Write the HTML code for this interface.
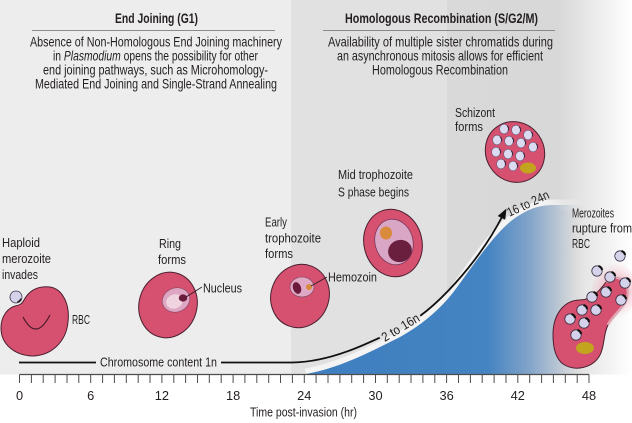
<!DOCTYPE html>
<html>
<head>
<meta charset="utf-8">
<style>
  html,body{margin:0;padding:0;background:#ffffff;}
  svg{display:block;}
  text{font-family:"Liberation Sans Narrow","Liberation Sans",sans-serif;fill:#231f20;}
</style>
</head>
<body>
<svg width="632" height="423" viewBox="0 0 632 423" xmlns="http://www.w3.org/2000/svg">
  <defs>
    <linearGradient id="bgR" gradientUnits="userSpaceOnUse" x1="447" y1="0" x2="632" y2="0">
      <stop offset="0" stop-color="#d9d9d9"/>
      <stop offset="0.6" stop-color="#d8d8d8"/>
      <stop offset="0.85" stop-color="#f0f0f0"/>
      <stop offset="1" stop-color="#ffffff"/>
    </linearGradient>
    <linearGradient id="blue" gradientUnits="userSpaceOnUse" x1="300" y1="0" x2="585" y2="0">
      <stop offset="0" stop-color="#3e7ebf"/>
      <stop offset="0.66" stop-color="#4584c2"/>
      <stop offset="0.8" stop-color="#80a3c9"/>
      <stop offset="0.9" stop-color="#b6c4d3"/>
      <stop offset="1" stop-color="#d8d8d8" stop-opacity="0"/>
    </linearGradient>
    <linearGradient id="band" gradientUnits="userSpaceOnUse" x1="300" y1="0" x2="585" y2="0">
      <stop offset="0" stop-color="#f4f4f4"/>
      <stop offset="0.85" stop-color="#f4f4f4"/>
      <stop offset="1" stop-color="#f4f4f4" stop-opacity="0"/>
    </linearGradient>
    <radialGradient id="glow" gradientUnits="userSpaceOnUse" cx="616" cy="290" r="28">
      <stop offset="0" stop-color="#e56a86" stop-opacity="0.8"/>
      <stop offset="1" stop-color="#f2b5c3" stop-opacity="0"/>
    </radialGradient>
    <mask id="lineMask" maskUnits="userSpaceOnUse" x="0" y="0" width="632" height="423">
      <rect x="0" y="0" width="632" height="423" fill="#fff"/>
      <rect x="96" y="354" width="125" height="16" fill="#000"/>
      <rect x="-23" y="-7" width="46" height="14" fill="#000" transform="translate(400.5,327.5) rotate(-31)"/>
    </mask>
    <g id="mz">
      <ellipse rx="4.4" ry="4.8" fill="#dcdaf0" stroke="#6a5a78" stroke-width="0.6"/>
      <path d="M3.2,-3.2 A4.5,4.5 0 0 1 4.3,1.5" fill="none" stroke="#3a2a40" stroke-width="1.1"/>
    </g>
    <g id="mzb">
      <circle r="5.2" fill="#d5d3ec" stroke="#3a3040" stroke-width="0.8"/>
      <path d="M1.5,-5 A5.2,5.2 0 0 1 5.1,-1" fill="none" stroke="#111" stroke-width="2.2"/>
    </g>
  </defs>

  <!-- background -->
  <rect x="0" y="0" width="291" height="374.5" fill="#ededed"/>
  <rect x="291" y="0" width="156" height="374.5" fill="#e1e1e1"/>
  <rect x="447" y="0" width="185" height="374.5" fill="url(#bgR)"/>

  <!-- header left -->
  <text x="156.5" y="23" text-anchor="middle" font-weight="bold" font-size="14" textLength="83" lengthAdjust="spacingAndGlyphs">End Joining (G1)</text>
  <line x1="32" y1="30.5" x2="275" y2="30.5" stroke="#8a8a8a" stroke-width="1"/>
  <text x="156" y="46.5" text-anchor="middle" font-size="13.6" textLength="252" lengthAdjust="spacingAndGlyphs">Absence of Non-Homologous End Joining machinery</text>
  <text x="155.5" y="60.5" text-anchor="middle" font-size="13.6" textLength="205" lengthAdjust="spacingAndGlyphs">in <tspan font-style="italic">Plasmodium</tspan> opens the possibility for other</text>
  <text x="155.5" y="74.5" text-anchor="middle" font-size="13.6" textLength="225" lengthAdjust="spacingAndGlyphs">end joining pathways, such as Microhomology-</text>
  <text x="156" y="88.5" text-anchor="middle" font-size="13.6" textLength="242" lengthAdjust="spacingAndGlyphs">Mediated End Joining and Single-Strand Annealing</text>

  <!-- header right -->
  <text x="441.5" y="23" text-anchor="middle" font-weight="bold" font-size="14" textLength="193" lengthAdjust="spacingAndGlyphs">Homologous Recombination (S/G2/M)</text>
  <line x1="323" y1="30.5" x2="555" y2="30.5" stroke="#8a8a8a" stroke-width="1"/>
  <text x="440.5" y="46.5" text-anchor="middle" font-size="13.6" textLength="225" lengthAdjust="spacingAndGlyphs">Availability of multiple sister chromatids during</text>
  <text x="440" y="60.5" text-anchor="middle" font-size="13.6" textLength="206" lengthAdjust="spacingAndGlyphs">an asynchronous mitosis allows for efficient</text>
  <text x="440" y="74.5" text-anchor="middle" font-size="13.6" textLength="136" lengthAdjust="spacingAndGlyphs">Homologous Recombination</text>

  <!-- white band + blue area -->
  <path d="M306,374 C340,368 370,352 400,337 C420,326 440,310 455,290 C475,263 495,232 515,218 C530,208 540,205 555,205 L580,205" fill="none" stroke="url(#band)" stroke-width="11"/>
  <path d="M306,374 C340,368 370,352 400,337 C420,326 440,310 455,290 C475,263 495,232 515,218 C530,208 540,205 555,205 L585,205 L585,374.5 L306,374.5 Z" fill="url(#blue)"/>

  <!-- chromosome content line -->
  <path d="M19,362.5 H292 C330,362 365,345 400,328 C435,312 480,260 503,215" fill="none" stroke="#111" stroke-width="1.8" mask="url(#lineMask)"/>
  <polygon points="506.5,208.5 505.2,219.8 497.7,216" fill="#111"/>
  <text x="100" y="366.5" font-size="12.8" textLength="117" lengthAdjust="spacingAndGlyphs">Chromosome content 1n</text>
  <text x="0" y="0" font-size="12.8" text-anchor="middle" textLength="42" lengthAdjust="spacingAndGlyphs" transform="translate(400.5,327.5) rotate(-31) translate(0,4.3)">2 to 16n</text>
  <text x="0" y="0" font-size="12.8" text-anchor="middle" textLength="45" lengthAdjust="spacingAndGlyphs" transform="translate(528,203.5) rotate(-25) translate(0,4.3)">16 to 24n</text>

  <!-- Cell 1: invading -->
  <path d="M24,300 C30,289 40,286 50,287 C63,289 70,305 68,322 C66,343 50,356 32,356 C14,355 1,344 1,328 C1,316 8,308 15,306 C20,305 22,304 24,300 Z" fill="#d6506f" stroke="#4a2030" stroke-width="1"/>
  <path d="M23,317 Q36,342 50,315" fill="none" stroke="#4a1a2a" stroke-width="1.2"/>
  <g transform="translate(16,297)">
    <circle r="6" fill="#d5d3ec" stroke="#3a3040" stroke-width="0.8"/>
    <path d="M5.6,2 A6,6 0 0 1 1,5.9 L1.5,4.2 A4.4,4.4 0 0 0 4.2,1.4 Z" fill="#1e1a22"/>
  </g>
  <text x="2" y="247" font-size="12.8" textLength="38" lengthAdjust="spacingAndGlyphs">Haploid</text>
  <text x="2" y="263" font-size="12.8" textLength="49" lengthAdjust="spacingAndGlyphs">merozoite</text>
  <text x="2" y="279" font-size="12.8" textLength="36" lengthAdjust="spacingAndGlyphs">invades</text>
  <text x="72" y="324" font-size="12.8" textLength="18" lengthAdjust="spacingAndGlyphs">RBC</text>

  <!-- Cell 2: ring -->
  <ellipse cx="168" cy="305" rx="29" ry="33" transform="rotate(15 168 305)" fill="#d6506f" stroke="#4a2030" stroke-width="1"/>
  <ellipse cx="176" cy="300" rx="14" ry="12" transform="rotate(-20 176 300)" fill="#dea6c2" stroke="#8a4a66" stroke-width="0.7"/>
  <ellipse cx="174.5" cy="301.5" rx="8.5" ry="7" transform="rotate(-20 174.5 301.5)" fill="#efd3df"/>
  <ellipse cx="183" cy="298" rx="4.2" ry="3.6" fill="#6a1a3a"/>
  <line x1="186" y1="297" x2="202" y2="287" stroke="#2a1a20" stroke-width="0.8"/>
  <text x="159" y="248" font-size="12.8" textLength="22" lengthAdjust="spacingAndGlyphs">Ring</text>
  <text x="158" y="264" font-size="12.8" textLength="28" lengthAdjust="spacingAndGlyphs">forms</text>
  <text x="203" y="292.5" font-size="12.8" textLength="39" lengthAdjust="spacingAndGlyphs">Nucleus</text>

  <!-- Cell 3: early trophozoite -->
  <ellipse cx="300" cy="296" rx="29" ry="32" transform="rotate(20 300 296)" fill="#d6506f" stroke="#4a2030" stroke-width="1"/>
  <ellipse cx="302" cy="287" rx="12" ry="10" fill="#dfa8c4" stroke="#8a4a66" stroke-width="0.7"/>
  <ellipse cx="297" cy="288" rx="4" ry="6" transform="rotate(-20 297 288)" fill="#6a1a3a"/>
  <circle cx="309" cy="287" r="3" fill="#d98a3a"/>
  <line x1="311" y1="286" x2="327" y2="277" stroke="#2a1a20" stroke-width="0.8"/>
  <text x="265" y="226.5" font-size="12.8" textLength="22" lengthAdjust="spacingAndGlyphs">Early</text>
  <text x="265" y="242.5" font-size="12.8" textLength="56" lengthAdjust="spacingAndGlyphs">trophozoite</text>
  <text x="265" y="258" font-size="12.8" textLength="28" lengthAdjust="spacingAndGlyphs">forms</text>
  <text x="328" y="281.5" font-size="12.8" textLength="49" lengthAdjust="spacingAndGlyphs">Hemozoin</text>

  <!-- Cell 4: mid trophozoite -->
  <ellipse cx="393" cy="243" rx="29" ry="34" transform="rotate(-15 393 243)" fill="#d6506f" stroke="#4a2030" stroke-width="1"/>
  <ellipse cx="394" cy="242" rx="19" ry="23" transform="rotate(-15 394 242)" fill="#d9a6c6" stroke="#7a3a5a" stroke-width="0.8"/>
  <ellipse cx="386" cy="233" rx="6" ry="6.5" fill="#d98a3a"/>
  <ellipse cx="400" cy="251" rx="12" ry="11" transform="rotate(-20 400 251)" fill="#6b1f3f"/>
  <text x="338" y="179" font-size="12.8" textLength="75" lengthAdjust="spacingAndGlyphs">Mid trophozoite</text>
  <text x="338" y="196.5" font-size="12.8" textLength="71" lengthAdjust="spacingAndGlyphs">S phase begins</text>

  <!-- Cell 5: schizont -->
  <ellipse cx="515" cy="152" rx="29" ry="31" transform="rotate(-35 515 152)" fill="#d6506f" stroke="#4a2030" stroke-width="1"/>
  <use href="#mz" x="504" y="129"/>
  <use href="#mz" x="516" y="130"/>
  <use href="#mz" x="528" y="135"/>
  <use href="#mz" x="497" y="140"/>
  <use href="#mz" x="509" y="141"/>
  <use href="#mz" x="521" y="143"/>
  <use href="#mz" x="533" y="147"/>
  <use href="#mz" x="496" y="152"/>
  <use href="#mz" x="508" y="154"/>
  <use href="#mz" x="520" y="156"/>
  <use href="#mz" x="501" y="164"/>
  <use href="#mz" x="513" y="166"/>
  <ellipse cx="528" cy="168" rx="8" ry="5.5" fill="#c2a41e"/>
  <text x="455" y="117" font-size="12.8" textLength="40" lengthAdjust="spacingAndGlyphs">Schizont</text>
  <text x="455" y="131" font-size="12.8" textLength="28" lengthAdjust="spacingAndGlyphs">forms</text>

  <!-- Cell 6: rupture -->
  <ellipse cx="614" cy="290" rx="22" ry="30" fill="url(#glow)"/>
  <path d="M553,335 C553,312 566,300 580,300 C592,300 600,290 606,282 C612,274 626,276 628,290 C630,305 615,312 608,325 C603,335 605,345 600,355 C593,368 575,372 563,364 C555,358 553,347 553,335 Z" fill="#d6506f" stroke="#4a2030" stroke-width="1"/>
  <path d="M606,282 C612,274 626,276 628,290 C630,305 615,312 608,325" fill="none" stroke="#f0c0cc" stroke-width="3" opacity="0.8"/>
  <use href="#mzb" x="620" y="256"/>
  <use href="#mzb" x="597" y="271"/>
  <use href="#mzb" x="610" y="277"/>
  <use href="#mzb" x="625" y="283"/>
  <use href="#mzb" x="606" y="292"/>
  <use href="#mzb" x="621" y="300"/>
  <use href="#mzb" x="592" y="297"/>
  <use href="#mzb" x="582" y="310"/>
  <use href="#mzb" x="596" y="310"/>
  <use href="#mzb" x="570" y="319"/>
  <use href="#mzb" x="584" y="323"/>
  <use href="#mzb" x="576" y="335"/>
  <ellipse cx="585" cy="348" rx="9" ry="6" fill="#c2a41e"/>
  <text x="572" y="217.5" font-size="12.8" textLength="42" lengthAdjust="spacingAndGlyphs">Merozoites</text>
  <text x="572" y="232.5" font-size="12.8" textLength="60" lengthAdjust="spacingAndGlyphs">rupture from</text>
  <text x="572" y="248" font-size="12.8" textLength="18" lengthAdjust="spacingAndGlyphs">RBC</text>

  <!-- axis -->
  <rect x="0" y="375" width="632" height="48" fill="#ffffff"/>
  <line x1="19.5" y1="374.5" x2="589" y2="374.5" stroke="#4d4d4d" stroke-width="1.3"/>
  <path d="M19.5,374.5V383 M31.4,374.5V383 M43.2,374.5V383 M55.1,374.5V383 M67,374.5V383 M78.8,374.5V383 M90.7,374.5V383 M102.6,374.5V383 M114.4,374.5V383 M126.3,374.5V383 M138.2,374.5V383 M150,374.5V383 M161.9,374.5V383 M173.8,374.5V383 M185.6,374.5V383 M197.5,374.5V383 M209.3,374.5V383 M221.2,374.5V383 M233.1,374.5V383 M244.9,374.5V383 M256.8,374.5V383 M268.7,374.5V383 M280.5,374.5V383 M292.4,374.5V383 M304.3,374.5V383 M316.1,374.5V383 M328,374.5V383 M339.9,374.5V383 M351.7,374.5V383 M363.6,374.5V383 M375.5,374.5V383 M387.3,374.5V383 M399.2,374.5V383 M411,374.5V383 M422.9,374.5V383 M434.8,374.5V383 M446.6,374.5V383 M458.5,374.5V383 M470.4,374.5V383 M482.2,374.5V383 M494.1,374.5V383 M506,374.5V383 M517.8,374.5V383 M529.7,374.5V383 M541.6,374.5V383 M553.4,374.5V383 M565.3,374.5V383 M577.2,374.5V383 M589,374.5V383" stroke="#4d4d4d" stroke-width="1" fill="none"/>
  <g font-size="12.8" text-anchor="middle">
    <text x="19.5" y="400">0</text>
    <text x="90.7" y="400">6</text>
    <text x="161.9" y="400">12</text>
    <text x="233.1" y="400">18</text>
    <text x="304.3" y="400">24</text>
    <text x="375.5" y="400">30</text>
    <text x="446.6" y="400">36</text>
    <text x="517.8" y="400">42</text>
    <text x="589" y="400">48</text>
  </g>
  <text x="303.5" y="416.5" font-size="12.8" text-anchor="middle" textLength="107" lengthAdjust="spacingAndGlyphs">Time post-invasion (hr)</text>
</svg>
</body>
</html>
